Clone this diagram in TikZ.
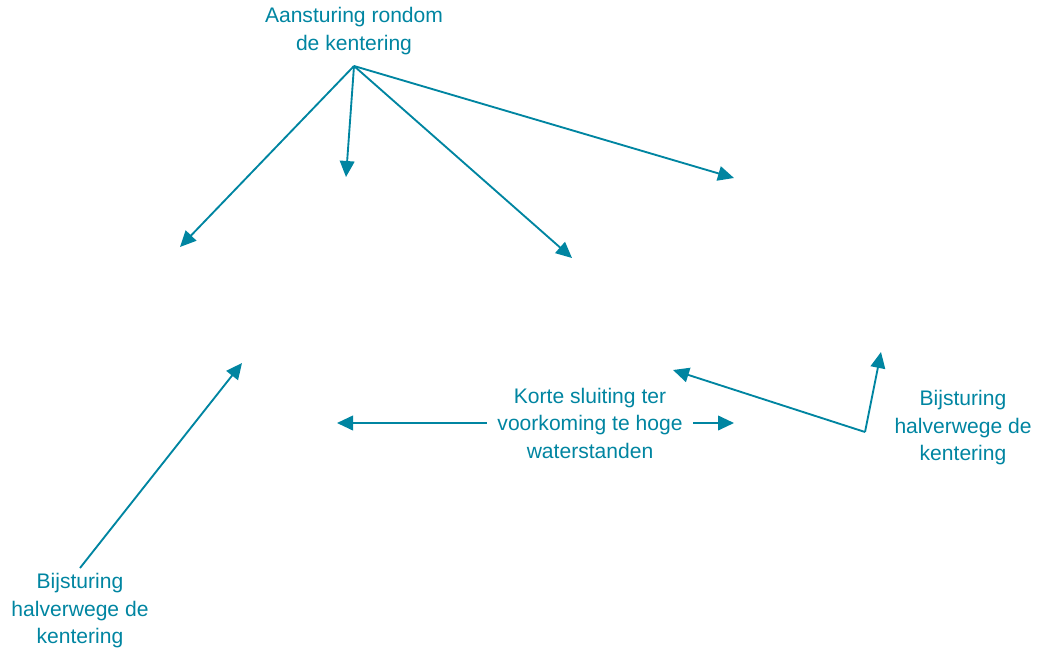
\documentclass[tikz,border=0pt]{standalone}
\usepackage{fontspec}
\setmainfont{Liberation Sans}
\usetikzlibrary{arrows.meta}
\definecolor{kleur}{RGB}{0,133,161}
\tikzset{
    pijl/.style={draw=kleur, line width=1.4pt, -{Triangle[length=12pt,width=11pt]}},
    tekst/.style={text=kleur, align=center, inner sep=1pt, font=\fontsize{15.8}{20.6}\selectfont}
}

\begin{document}
\begin{tikzpicture}[x=0.75pt,y=-0.75pt]
            \useasboundingbox (0,0) rectangle (1037,652);

            \node[tekst] (aansturing) at (354,31) {Aansturing rondom\\de kentering};
            \node[tekst, fill=white, inner xsep=8pt] (kortsluiting) at (590,423) {Korte sluiting ter\\voorkoming te hoge\\waterstanden};
            \node[tekst] (bijsturingR) at (963,428) {Bijsturing\\halverwege de\\kentering};
            \node[tekst] (bijsturingL) at (80,611) {Bijsturing\\halverwege de\\kentering};

            \coordinate (bron) at (354,66);
            \coordinate (bronR) at (865,432);
            \coordinate (bronL) at (80,568);

            \coordinate (doel1) at (180,247);
            \coordinate (doel2) at (346,177);
            \coordinate (doel3) at (572,258);
            \coordinate (doel4) at (734,178);
            \coordinate (doel5) at (242,363);
            \coordinate (doel6) at (673,370);
            \coordinate (doel7) at (881,352);
            \coordinate (links) at (337,423);
            \coordinate (rechts) at (734,423);

            \draw[pijl] (bron) -- (doel1);
            \draw[pijl] (bron) -- (doel2);
            \draw[pijl] (bron) -- (doel3);
            \draw[pijl] (bron) -- (doel4);

            \draw[pijl] (bronL) -- (doel5);

            \draw[pijl] (bronR) -- (doel6);
            \draw[pijl] (bronR) -- (doel7);

            \draw[pijl] (kortsluiting.west |- links) -- (links);
            \draw[pijl] (kortsluiting.east |- rechts) -- (rechts);
        \end{tikzpicture}
\end{document}
